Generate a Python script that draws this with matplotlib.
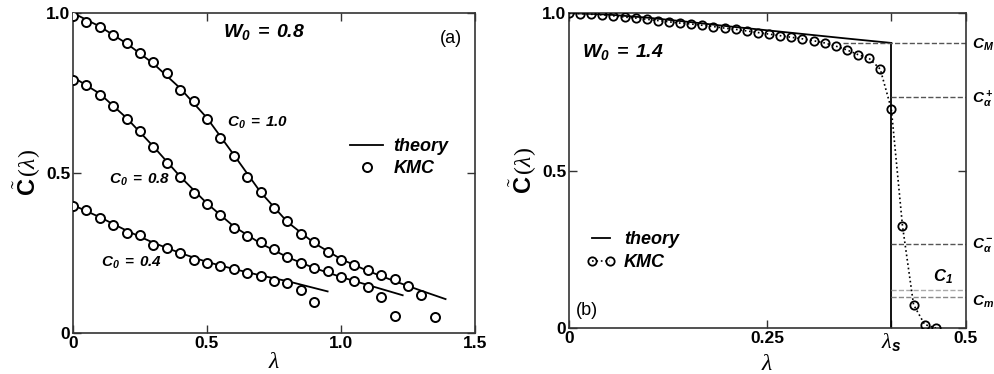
import numpy as np
import matplotlib
matplotlib.use('Agg')
import matplotlib.pyplot as plt
from matplotlib.lines import Line2D

plt.rcParams['font.family'] = ['Liberation Sans', 'DejaVu Sans']
plt.rcParams['mathtext.fontset'] = 'custom'
plt.rcParams['mathtext.rm'] = 'Liberation Serif'
plt.rcParams['mathtext.it'] = 'Liberation Serif:italic'
plt.rcParams['mathtext.bf'] = 'Liberation Sans:bold:italic'
plt.rcParams['mathtext.sf'] = 'Liberation Sans:bold'

# ---- panel (a): W0 = 0.8 ----
lam_a = np.round(np.arange(0, 1.36, 0.05), 2)
kmc_10 = [0.99, 0.971, 0.955, 0.932, 0.906, 0.875, 0.846, 0.812, 0.760, 0.724,
          0.669, 0.609, 0.552, 0.488, 0.440, 0.390, 0.349, 0.309, 0.283, 0.253,
          0.229, 0.211, 0.196, 0.180, 0.170, 0.146, 0.118, 0.050]
kmc_08 = [0.792, 0.776, 0.745, 0.710, 0.669, 0.630, 0.580, 0.531, 0.486, 0.438,
          0.403, 0.370, 0.328, 0.302, 0.284, 0.262, 0.238, 0.219, 0.203, 0.193,
          0.175, 0.161, 0.144, 0.111, 0.054]
kmc_04 = [0.396, 0.383, 0.359, 0.336, 0.312, 0.305, 0.276, 0.266, 0.250, 0.229,
          0.219, 0.210, 0.200, 0.188, 0.179, 0.164, 0.156, 0.133, 0.097]

th_lam_10 = [0, 0.1, 0.2, 0.3, 0.4, 0.5, 0.6, 0.7, 0.8, 0.9, 1.0, 1.1, 1.2, 1.3, 1.39]
th_10 = [1.0, 0.958, 0.905, 0.842, 0.765, 0.672, 0.557, 0.440, 0.347, 0.281,
         0.231, 0.194, 0.162, 0.132, 0.106]
th_lam_08 = [0, 0.1, 0.2, 0.3, 0.4, 0.5, 0.6, 0.7, 0.8, 0.9, 1.0, 1.1, 1.23]
th_08 = [0.80, 0.748, 0.672, 0.583, 0.489, 0.405, 0.333, 0.280, 0.237, 0.203,
         0.175, 0.150, 0.118]
th_lam_04 = [0, 0.1, 0.2, 0.3, 0.4, 0.5, 0.6, 0.7, 0.8, 0.95]
th_04 = [0.40, 0.362, 0.320, 0.282, 0.250, 0.222, 0.200, 0.180, 0.162, 0.130]

# ---- panel (b): W0 = 1.4 ----
lam_b = np.round(np.arange(34) * 0.014, 3)
kmc_b = [1.000, 0.998, 0.996, 0.994, 0.991, 0.987, 0.984, 0.980, 0.976, 0.972,
         0.968, 0.965, 0.961, 0.957, 0.952, 0.948, 0.943, 0.938, 0.933, 0.928,
         0.923, 0.918, 0.912, 0.905, 0.895, 0.883, 0.868, 0.856, 0.822, 0.695,
         0.325, 0.074, 0.011, 0.0]
th_lam_b = [0, 0.05, 0.1, 0.15, 0.2, 0.25, 0.3, 0.35, 0.406]
th_b = [1.0, 0.995, 0.985, 0.972, 0.958, 0.945, 0.932, 0.919, 0.905]
lam_s = 0.406
levels = {'M': 0.905, 'a+': 0.732, 'a-': 0.267, '1': 0.122, 'm': 0.097}

fig = plt.figure(figsize=(9.94, 3.74), dpi=100)
ax1 = fig.add_axes([0.0734, 0.1096, 0.4045, 0.8556])
ax2 = fig.add_axes([0.5724, 0.123, 0.3994, 0.8422])

spine_col = '#333333'
ylab = r'$\tilde{\mathsf{C}}\,(\lambda)$'

for ax in (ax1, ax2):
    for s in ax.spines.values():
        s.set_linewidth(1.2)
        s.set_color(spine_col)
    ax.tick_params(direction='in', top=True, right=True, length=6, width=1.0,
                   labelsize=12.5, pad=2, color=spine_col)

# panel (a)
for lx, ly in [(th_lam_10, th_10), (th_lam_08, th_08), (th_lam_04, th_04)]:
    ax1.plot(lx, ly, color='black', lw=1.3, zorder=2)
for ky in (kmc_10, kmc_08, kmc_04):
    ax1.plot(lam_a[:len(ky)], ky, 'o', mfc='white', mec='black', mew=1.4, ms=6.5, zorder=3)
ax1.set_xlim(0, 1.5)
ax1.set_ylim(0, 1.0)
ax1.set_xticks([0, 0.5, 1.0, 1.5])
ax1.set_xticklabels(['0', '0.5', '1.0', '1.5'], fontweight='bold')
ax1.set_yticks([0, 0.5, 1.0])
ax1.set_yticklabels(['0', '0.5', '1.0'], fontweight='bold')
ax1.text(0.713, 0.94, r'$\mathbf{W_0\ =\ 0.8}$', ha='center', va='center', fontsize=14)
ax1.text(1.41, 0.92, '(a)', ha='center', va='center', fontsize=13)
ax1.text(0.69, 0.656, r'$\mathbf{C_0\ =\ 1.0}$', ha='center', va='center', fontsize=11)
ax1.text(0.25, 0.478, r'$\mathbf{C_0\ =\ 0.8}$', ha='center', va='center', fontsize=11)
ax1.text(0.22, 0.219, r'$\mathbf{C_0\ =\ 0.4}$', ha='center', va='center', fontsize=11)
h1 = [Line2D([], [], color='black', lw=1.3),
      Line2D([], [], ls='none', marker='o', mfc='white', mec='black', mew=1.4, ms=6.5)]
ax1.legend(h1, ['theory', 'KMC'], loc='center left', bbox_to_anchor=(0.672, 0.548),
           borderaxespad=0, frameon=False, handlelength=1.8, handletextpad=0.6,
           labelspacing=0.3,
           prop=dict(family='Liberation Sans', weight='bold', style='italic', size=13))
ax1.set_xlabel(r'$\lambda$', fontsize=17, labelpad=0)
ax1.set_ylabel(ylab, fontsize=17, labelpad=2)

# panel (b)
ax2.plot(th_lam_b, th_b, color='black', lw=1.3, zorder=2)
ax2.plot([lam_s, lam_s], [th_b[-1], 0], color='black', lw=1.3, zorder=2)
ax2.plot(lam_b, kmc_b, ls=':', color='black', lw=1.2, marker='o', mfc='none',
         mec='black', mew=1.3, ms=6, zorder=3)
ax2.hlines(levels['M'], 0.345, 0.5, colors='#555555', linestyles='--', lw=1.0)
ax2.hlines(levels['a+'], lam_s, 0.5, colors='#555555', linestyles='--', lw=1.0)
ax2.hlines(levels['a-'], lam_s, 0.5, colors='#555555', linestyles='--', lw=1.0)
ax2.hlines(levels['1'], lam_s, 0.5, colors='#aaaaaa', linestyles='--', lw=1.0)
ax2.hlines(levels['m'], lam_s, 0.5, colors='#888888', linestyles='--', lw=1.0)
ax2.set_xlim(0, 0.5)
ax2.set_ylim(0, 1.0)
ax2.set_xticks([0, 0.25, lam_s, 0.5])
ax2.set_xticklabels(['0', '0.25', r'$\lambda_{\mathbf{s}}$', '0.5'], fontweight='bold')
ax2.get_xticklabels()[2].set_fontsize(16)
ax2.set_yticks([0, 0.5, 1.0])
ax2.set_yticklabels(['0', '0.5', '1.0'], fontweight='bold')
ax2.text(0.017, 0.876, r'$\mathbf{W_0\ =\ 1.4}$', ha='left', va='center', fontsize=14)
ax2.text(0.009, 0.057, '(b)', ha='left', va='center', fontsize=13)
rl = dict(ha='left', va='center', fontsize=11, clip_on=False)
ax2.text(0.507, 0.900, r'$\mathbf{C_M}$', **rl)
ax2.text(0.507, 0.725, r'$\mathbf{C_\alpha^{\,+}}$', **rl)
ax2.text(0.507, 0.262, r'$\mathbf{C_\alpha^{\,-}}$', **rl)
ax2.text(0.507, 0.083, r'$\mathbf{C_m}$', **rl)
ax2.text(0.471, 0.162, r'$\mathbf{C_1}$', ha='center', va='center', fontsize=12)
h2 = [Line2D([], [], color='black', lw=1.3),
      Line2D([], [], ls=':', color='black', lw=1.2, marker='o', mfc='none', mec='black',
             mew=1.3, ms=6)]
ax2.legend(h2, ['theory', 'KMC'], loc='center left', bbox_to_anchor=(0.025, 0.244),
           borderaxespad=0, frameon=False, handlelength=1.6, handletextpad=0.5,
           labelspacing=0.3, numpoints=2,
           prop=dict(family='Liberation Sans', weight='bold', style='italic', size=13))
ax2.set_xlabel(r'$\lambda$', fontsize=17, labelpad=0)
ax2.set_ylabel(ylab, fontsize=17, labelpad=2)

fig.savefig('out.png', dpi=100)
